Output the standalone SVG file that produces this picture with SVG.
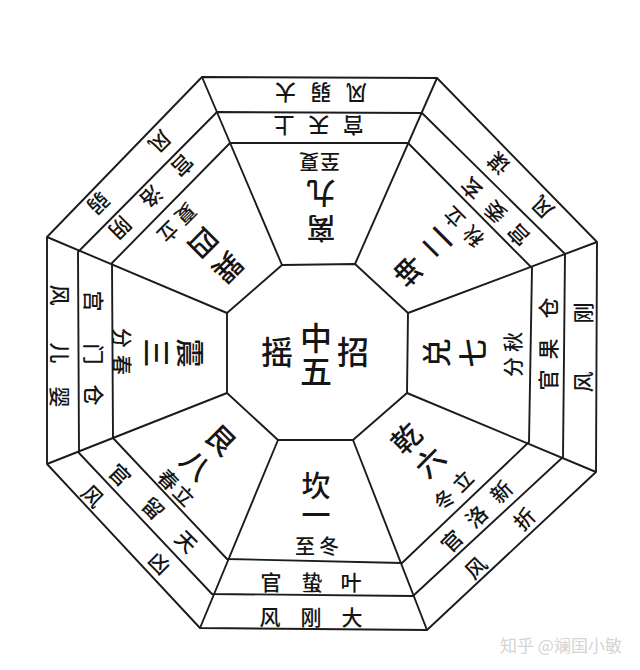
<svg xmlns="http://www.w3.org/2000/svg" width="640" height="670" viewBox="0 0 640 670">
<style>
.ln{fill:none;stroke:#1c1c1c;stroke-width:1.9;stroke-linejoin:round}
.t{font-family:"Noto Sans CJK SC","Noto Sans CJK JP",sans-serif;font-weight:500;fill:#151515;text-anchor:middle;dominant-baseline:central}
.m{font-size:29px}
.r{font-size:21px}
.s{font-size:20px}
.c{font-size:32px}
.w{font-family:"Noto Sans CJK SC",sans-serif;font-size:17px;fill:#d4d4d4}
</style>
<rect width="640" height="670" fill="#ffffff"/>
<g id="connectors">
<polygon class="ln" points="202,77 437,78 597,242 596,472 427,630 200,628 47,464 47,237"/>
<polygon class="ln" points="217,112 422,113 565,254 563,457 413,596 212,594 79,453 78,252"/>
<polygon class="ln" points="230,143 408,143 532,268 529,442 402,563 227,559 113,438 112,263"/>
<polygon class="ln" points="282,265 355,264 408,313 407,393 353,440 278,440 227,393 227,313"/>
<path class="ln" d="M282,265L202,77M355,264L437,78M408,313L597,242M407,393L596,472M353,440L427,630M278,440L200,628M227,393L47,464M227,313L47,237"/>
</g>
<g id="center">
<text class="t c" x="316 316" y="336 369">中五</text>
<text class="t c" x="277" y="350">摇</text>
<text class="t c" x="353" y="350">招</text>
</g>
<g id="li9">
<text class="t r" transform="translate(321,93.5) rotate(180)" x="-35.5 0 35.5" y="0">风弱大</text>
<text class="t r" transform="translate(318.7,126.7) rotate(180)" x="-34.6 0 34.6" y="0">宫天上</text>
<text class="t s" transform="translate(319.5,162.5) rotate(180)" x="-10.5 10.5" y="0">至夏</text>
<text class="t m" transform="translate(321,212.5) rotate(180)" x="0 0" y="-17.5 17.5">离九</text>
</g>
<g id="kan1">
<text class="t m" x="316 316" y="484 513">坎一</text>
<text class="t s" x="305 329" y="545">至冬</text>
<text class="t r" x="271 312 351" y="581">官蛰叶</text>
<text class="t r" x="270 311 352" y="616">风刚大</text>
</g>
<g id="zhen3">
<text class="t m" transform="translate(175,353) rotate(90)" x="0 0" y="-17 17">震三</text>
<text class="t s" transform="translate(122,351.5) rotate(90)" x="-13.5 13.5" y="0">分春</text>
<text class="t r" transform="translate(95,348) rotate(90)" x="-47 6 47" y="0">宫门仓</text>
<text class="t r" transform="translate(61,346) rotate(90)" x="-51 7 51" y="0">风儿婴</text>
</g>
<g id="dui7">
<text class="t m" transform="translate(453,353) rotate(-90)" x="0 0" y="-18 18">兑七</text>
<text class="t s" transform="translate(512,355) rotate(-90)" x="-12 13" y="0">分秋</text>
<text class="t r" transform="translate(547,344) rotate(-90)" x="-36 -5 36" y="0">官果仓</text>
<text class="t r" transform="translate(582,347.5) rotate(-90)" x="-34.5 34.5" y="0">风刚</text>
</g>
<g id="xun4">
<text class="t r" transform="translate(130,173) rotate(135)" x="-43.5 43.5" y="0">风弱</text>
<text class="t r" transform="translate(152,197.5) rotate(135)" x="-44 0 44" y="0">宫洛阴</text>
<text class="t s" transform="translate(177.5,223.7) rotate(135)" x="-12.6 12.6" y="0">夏立</text>
<text class="t m" transform="translate(217,256.7) rotate(135)" x="0 0" y="-17.5 17.5">巽四</text>
</g>
<g id="kun2">
<text class="t r" transform="translate(520,186) rotate(-135)" x="-31 31" y="0">风谋</text>
<text class="t r" transform="translate(494.5,212.4) rotate(-135)" x="-33 0 33" y="0">宫委玄</text>
<text class="t s" transform="translate(463,227.5) rotate(-135)" x="-13.5 13.5" y="0">秋立</text>
<text class="t m" transform="translate(421,258.3) rotate(-135)" x="0 0" y="-19.5 19.5">坤二</text>
</g>
<g id="gen8">
<text class="t r" transform="translate(126.7,528.7) rotate(45)" x="-47.4 47.4" y="0">风凶</text>
<text class="t r" transform="translate(153.7,507.5) rotate(45)" x="-47 0 47" y="0">官留天</text>
<text class="t s" transform="translate(176.7,487) rotate(45)" x="-11 11" y="0">春立</text>
<text class="t m" transform="translate(210,450.7) rotate(45)" x="0 0" y="-17.7 17.7">艮八</text>
</g>
<g id="qian6">
<text class="t r" transform="translate(499.5,542.5) rotate(-45)" x="-34.5 34.5" y="0">风折</text>
<text class="t r" transform="translate(475.8,515.8) rotate(-45)" x="-35 0 35" y="0">官洛新</text>
<text class="t s" transform="translate(452.8,489.5) rotate(-45)" x="-13 13" y="0">冬立</text>
<text class="t m" transform="translate(416.7,448.7) rotate(-45)" x="0 0" y="-16.8 16.8">乾六</text>
</g>
<text class="w" x="561" y="644" text-anchor="middle" dominant-baseline="central">知乎 @斓国小敏</text>
</svg>
